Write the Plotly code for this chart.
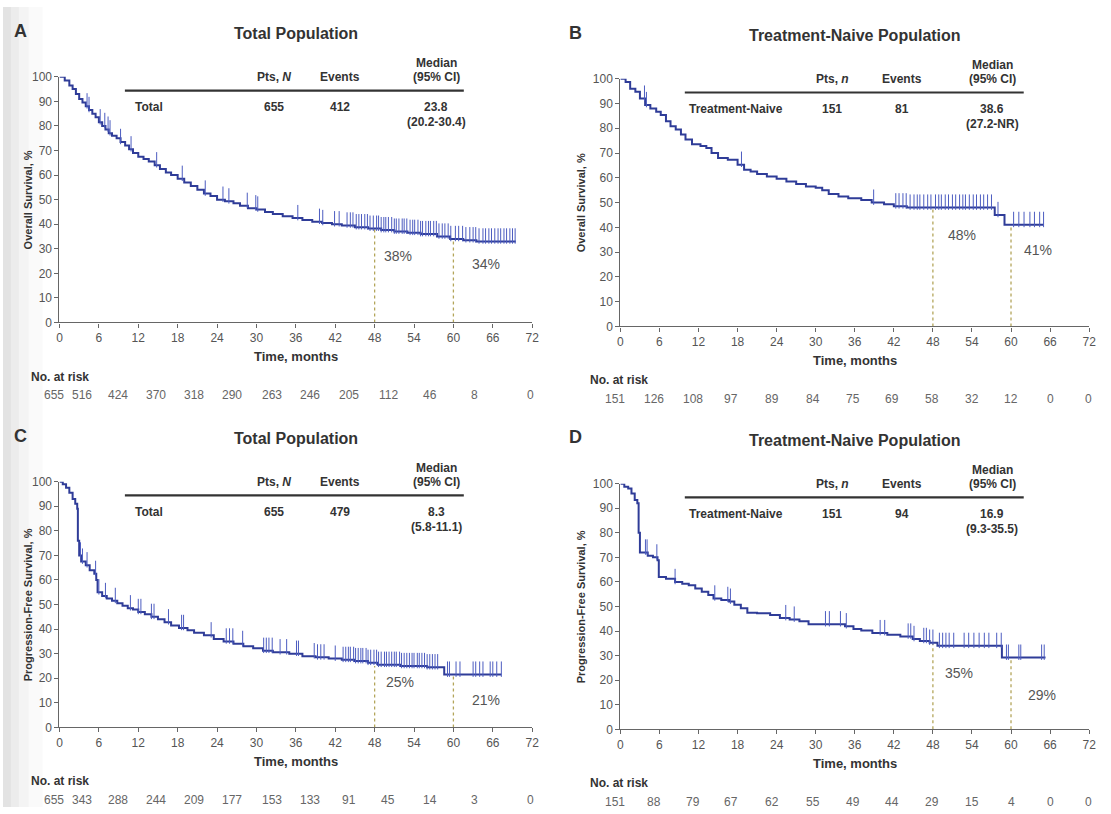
import plotly.graph_objects as go
from bisect import bisect_right

W, H = 1111, 814

# ---------------- data ----------------
risk_times = [0, 6, 12, 18, 24, 30, 36, 42, 48, 54, 60, 66, 72]

# Panel A: Overall survival, total population
a_time = [0, 0.8, 1.5, 2, 2.5, 3, 3.5, 4, 4.5, 5, 5.5, 6, 6.5, 7, 7.5, 8, 8.7, 9.3, 10,
          10.6, 11.2, 12, 12.8, 13.6, 14.5, 15.3, 16.2, 17, 18, 19, 20, 21, 22, 23, 24,
          25.2, 26.5, 27.5, 28.7, 30, 31.3, 32.5, 34, 35.5, 37, 38.5, 40, 41.5, 43, 45,
          47, 49, 51, 53, 55, 57.5, 59.5, 61.5, 63.5, 69.5]
a_surv = [100, 98.5, 96.5, 95, 93, 91, 89.5, 88, 86.5, 85, 83.5, 81.5, 80, 78.5, 77, 76,
          75, 73.5, 72, 70.5, 69, 67.5, 66.5, 65.5, 64, 62.5, 61, 60, 58.5, 57, 55.5, 54,
          52.5, 51.5, 50, 49.3, 48.5, 47.5, 46.5, 46, 45, 44.2, 43.2, 42.5, 41.7, 41,
          40.5, 40, 39.5, 38.8, 38.2, 37.6, 37, 36.5, 36, 35, 34, 33.5, 33, 33]
a_censor = [1.2, 4.2, 4.5, 6.2, 6.9, 7.4, 7.7, 9.3, 10.9, 14.8, 18.7, 22.2, 24.9, 25.8,
            28.6, 29.9, 30.2, 36.3, 39.6, 40.1, 41.9, 42.6, 43.8, 44.3, 44.7, 45.2, 45.6,
            46.0, 46.5, 46.9, 47.3, 47.8, 48.3, 48.6, 49.0, 49.4, 49.7, 50.1, 50.6, 51.0,
            51.3, 51.7, 52.2, 52.5, 52.9, 53.4, 53.8, 54.1, 54.6, 55.0, 55.3, 55.8, 56.2,
            56.5, 57.0, 57.4, 57.8, 58.3, 58.7, 59.2, 59.6, 60.3, 60.8, 61.4, 61.9, 62.5,
            63.0, 63.4, 63.9, 64.5, 64.9, 65.4, 65.8, 66.3, 66.8, 67.2, 67.7, 68.1, 68.6,
            69.0, 69.4]
a_risk = [655, 516, 424, 370, 318, 290, 263, 246, 205, 112, 46, 8, 0]

# Panel B: Overall survival, treatment-naive
b_time = [0, 0.8, 1.5, 2.3, 3, 3.8, 4.6, 5.5, 6.2, 7, 7.7, 8.5, 9.3, 10, 11, 12.3, 13.2,
          14, 15, 16.5, 18, 19, 20, 21, 22.5, 24, 25.5, 27, 28.5, 30, 31, 32, 33.5, 35,
          37, 38.6, 40.5, 42, 44, 57.5, 59, 65]
b_surv = [100, 98.7, 96, 94.7, 92, 89.4, 88, 86.7, 85.4, 82.8, 80.8, 79.5, 77.5, 75.5,
          73.5, 72.8, 72, 70, 68, 67.3, 65.3, 63.3, 62.5, 61.5, 60.5, 59.6, 58.5, 57.5,
          56.5, 56, 55, 53.5, 52.5, 51.7, 51, 50, 49.3, 48.5, 48, 45, 41, 41]
b_censor = [3.7, 4.0, 18.6, 38.9, 42.3, 42.8, 43.4, 43.9, 44.5, 45.1, 45.6, 46.0, 46.6,
            47.2, 47.7, 48.4, 48.9, 49.3, 49.9, 50.4, 51.0, 51.5, 52.1, 52.6, 53.0, 53.6,
            54.2, 54.7, 55.3, 55.8, 56.4, 57.0, 58.0, 60.4, 61.2, 62.0, 62.9, 63.6, 64.4,
            65.0]
b_risk = [151, 126, 108, 97, 89, 84, 75, 69, 58, 32, 12, 0, 0]

# Panel C: Progression-free survival, total population
c_time = [0, 0.5, 1, 1.5, 2, 2.4, 2.7, 2.8, 3.0, 3.3, 4, 4.6, 5.3, 5.6, 5.8, 6.5, 7.2, 8,
          8.8, 9.6, 10.4, 11.2, 12, 13, 14, 15, 16, 17, 18.2, 19.5, 20.5, 22, 23.5, 25,
          26.5, 28, 29.5, 31, 32.5, 35, 37, 39, 41, 43, 45, 47, 48.5, 52, 56, 58.6, 67.3]
c_surv = [100, 99, 97.5, 95.5, 93, 91, 89, 76, 70, 67.5, 66, 64, 62.5, 60, 55, 53.5,
          52.5, 51.5, 50.5, 49.5, 48.5, 48, 47, 46, 45, 44, 42.8, 41.5, 40.5, 39.5, 38.5,
          37.5, 36, 35, 34, 33, 32.2, 31.2, 30.6, 30, 29, 28.5, 28, 27.5, 27, 26.3, 25.5,
          25, 24.5, 21.5, 21.5]
c_censor = [0.5, 3.2, 3.5, 4.2, 5.5, 6.0, 7.0, 8.5, 10.8, 12.0, 12.4, 14.0, 14.4, 16.6,
            18.6, 18.9, 23.1, 25.4, 25.9, 26.4, 27.9, 31.1, 31.5, 31.9, 32.4, 33.6, 34.6,
            36.1, 36.4, 38.8, 39.3, 39.8, 40.3, 42.0, 43.2, 43.6, 44.0, 44.3, 44.8, 45.1,
            45.5, 45.9, 46.2, 46.7, 47.0, 47.4, 47.9, 48.3, 48.6, 49.0, 49.5, 49.8, 50.2,
            50.6, 51.0, 51.3, 51.8, 52.1, 52.5, 52.9, 53.3, 53.7, 54.0, 54.5, 54.8, 55.2,
            55.6, 56.0, 56.4, 56.8, 57.2, 57.6, 59.1, 59.4, 60.4, 61.0, 63.0, 63.4, 64.0,
            64.5, 65.6, 66.0, 66.6, 67.3]
c_risk = [655, 343, 288, 244, 209, 177, 153, 133, 91, 45, 14, 3, 0]

# Panel D: Progression-free survival, treatment-naive
d_time = [0, 0.6, 1.2, 1.7, 2.2, 2.6, 2.8, 3.0, 4.2, 5.0, 5.7, 5.9, 7, 8.4, 9.5, 10.5,
          11.5, 12.5, 13.5, 14.3, 15.5, 16.7, 17.5, 18.5, 19.5, 21, 23, 24.5, 26, 27.5,
          28.9, 32, 34.5, 35.8, 37, 38.7, 41, 43, 44.9, 46, 47.5, 48.7, 58.6, 65.3]
d_surv = [100, 98.7, 98, 96, 93.4, 92, 80, 72, 70.7, 70, 68.8, 62, 61.3, 60, 59.3, 58.7,
          57.3, 56, 54.7, 53.3, 52.7, 52, 50.7, 49.3, 47.5, 47.3, 46.5, 45.3, 44.7, 44,
          42.8, 42.8, 42, 40.8, 40.2, 39.2, 38.5, 37.8, 36.8, 36, 35.3, 34, 29.2, 29.2]
d_censor = [0.4, 3.85, 4.1, 5.6, 8.4, 14.5, 16.5, 16.9, 25.4, 26.7, 31.5, 32.1, 33.8,
            34.7, 39.9, 40.6, 44.2, 44.6, 45.1, 46.6, 47.0, 47.5, 48.0, 49.0, 49.5, 50.0,
            50.5, 51.2, 52.8, 53.5, 54.3, 55.1, 55.9, 56.6, 57.8, 58.5, 59.3, 59.6, 61.2,
            61.5, 64.7, 65.1]
d_risk = [151, 88, 79, 67, 62, 55, 49, 44, 29, 15, 4, 0, 0]

# Landmark estimates (48 and 60 months)
landmark_times = [48, 60]
a_landmark = [38, 34]
b_landmark = [48, 41]
c_landmark = [25, 21]
d_landmark = [35, 29]

# Table contents
panel_letters = ["A", "B", "C", "D"]
panel_titles = ["Total Population", "Treatment-Naive Population",
                "Total Population", "Treatment-Naive Population"]
y_titles = ["Overall Survival, %", "Overall Survival, %",
            "Progression-Free Survival, %", "Progression-Free Survival, %"]
group_labels = ["Total", "Treatment-Naive", "Total", "Treatment-Naive"]
n_symbols = ["N", "n", "N", "n"]
pts = [655, 151, 655, 151]
events = [412, 81, 479, 94]
medians = ["23.8", "38.6", "8.3", "16.9"]
median_cis = ["(20.2-30.4)", "(27.2-NR)", "(5.8-11.1)", "(9.3-35.5)"]

# ---------------- styling / geometry ----------------
FONT = "Liberation Sans, Arial, Helvetica, sans-serif"
CURVE = "#2f3c98"
CENS = "#4c5cc0"
DOT = "#b3a55a"
DARK = "#333333"
GRAY = "#555555"

geo = [
    dict(xl=57, xr=534, yt=71, yb=321),
    dict(xl=623, xr=1096, yt=73, yb=325),
    dict(xl=57, xr=534, yt=483, yb=733),
    dict(xl=623, xr=1096, yt=485, yb=735),
]
# column positions (px) for left/right panels
cols = [
    dict(letter=18, label=131, pts=273, events=340, median=437, line0=123, line1=465,
         risk=26, ytitle=25,
         risk_shift=[-5, -17, -20, -22, -23, -24, -24, -25, -26, -26, -23, -18, -2]),
    dict(letter=578, label=690, pts=837, events=907, median=998, line0=688, line1=1030,
         risk=590, ytitle=583,
         risk_shift=[-5, -5, -6, -7, -5, -3, -2, -2, -1, 0, 0, 0, -1]),
]
pct_pos = [
    [(51.6, 27), (65, 23.6)],
    [(52.4, 37), (64.2, 31)],
    [(51.8, 18.4), (65, 11.2)],
    [(52, 22.8), (64.7, 14)],
]

curves = [(a_time, a_surv, a_censor, a_risk, a_landmark),
          (b_time, b_surv, b_censor, b_risk, b_landmark),
          (c_time, c_surv, c_censor, c_risk, c_landmark),
          (d_time, d_surv, d_censor, d_risk, d_landmark)]


def px(x):
    return x / W


def py(y):
    return 1 - y / H


def surv_at(times, surv, t):
    return surv[bisect_right(times, t) - 1]


fig = go.Figure()
annotations = []
shapes = []
TICK_PX = 11

# faint scan shading along the left edge
for x0, x1, op in [(0, 8, 0.22), (8, 16, 0.15), (16, 26, 0.09), (26, 40, 0.04)]:
    shapes.append(dict(type="rect", xref="paper", yref="paper", x0=px(x0), x1=px(x1),
                       y0=0, y1=1, fillcolor="#808080", opacity=op, line=dict(width=0),
                       layer="below"))


def ann(text, x, y, size, bold=False, color=DARK, xanchor="center", angle=0,
        xref="paper", yref="paper", xshift=0):
    if bold:
        text = f"<b>{text}</b>"
    annotations.append(dict(
        text=text, x=px(x) if xref == "paper" else x,
        y=py(y) if yref == "paper" else y, xref=xref, yref=yref, xshift=xshift,
        xanchor=xanchor, yanchor="middle", showarrow=False, textangle=angle,
        font=dict(family=FONT, size=size, color=color)))


for i, (tt, ss, cens, risk, land) in enumerate(curves):
    k = i + 1
    xa = "x" if k == 1 else f"x{k}"
    ya = "y" if k == 1 else f"y{k}"
    g = geo[i]
    c = cols[i % 2]
    unit_px = (g["yb"] - g["yt"]) / 100.0

    # dotted landmark lines
    dx, dy = [], []
    for lt, lv in zip(landmark_times, land):
        dx += [lt, lt, None]
        dy += [0, lv, None]
    fig.add_trace(go.Scatter(x=dx, y=dy, mode="lines", xaxis=xa, yaxis=ya,
                             line=dict(color=DOT, width=1.3, dash="dot"),
                             hoverinfo="skip", showlegend=False))
    # KM curve
    fig.add_trace(go.Scatter(x=tt, y=ss, mode="lines", line_shape="hv", xaxis=xa,
                             yaxis=ya, line=dict(color=CURVE, width=2),
                             showlegend=False))
    # censor ticks
    off = (TICK_PX / 2.0) / unit_px
    fig.add_trace(go.Scatter(
        x=cens, y=[surv_at(tt, ss, t) + off for t in cens], mode="markers",
        xaxis=xa, yaxis=ya, cliponaxis=False,
        marker=dict(symbol="line-ns", size=TICK_PX, color=CENS,
                    line=dict(color=CENS, width=1)),
        showlegend=False))

    axis_common = dict(showgrid=False, zeroline=False, showline=True,
                       linecolor="#666666", linewidth=1.2, ticks="outside",
                       ticklen=4, tickcolor="#666666",
                       tickfont=dict(family=FONT, size=12, color=GRAY))
    fig.update_layout({
        ("xaxis" if k == 1 else f"xaxis{k}"): dict(
            domain=[px(g["xl"]), px(g["xr"])], anchor=ya, range=[0, 72],
            tickvals=risk_times, **axis_common),
        ("yaxis" if k == 1 else f"yaxis{k}"): dict(
            domain=[py(g["yb"]), py(g["yt"])], anchor=xa, range=[0, 100],
            tickvals=list(range(0, 101, 10)), **axis_common),
    })

    yt, yb = g["yt"], g["yb"]
    ann(panel_letters[i], c["letter"], yt - 47, 18, bold=True)
    ann(panel_titles[i], (g["xl"] + g["xr"]) / 2, yt - 44, 16, bold=True)
    ann("Median", c["median"], yt - 14, 12, bold=True)
    ann("(95% CI)", c["median"], yt, 12, bold=True)
    ann(f"Pts, <i>{n_symbols[i]}</i>", c["pts"], yt, 12, bold=True)
    ann("Events", c["events"], yt, 12, bold=True)
    shapes.append(dict(type="line", xref="paper", yref="paper",
                       x0=px(c["line0"]), x1=px(c["line1"]),
                       y0=py(yt + 14), y1=py(yt + 14),
                       line=dict(color=DARK, width=2.2)))
    ann(group_labels[i], c["label"], yt + 31, 12, bold=True, xanchor="left")
    ann(str(pts[i]), c["pts"], yt + 31, 12, bold=True)
    ann(str(events[i]), c["events"], yt + 31, 12, bold=True)
    ann(medians[i], c["median"], yt + 31, 12, bold=True)
    ann(median_cis[i], c["median"], yt + 46, 12, bold=True)

    ann(y_titles[i], c["ytitle"], (yt + yb) / 2, 11, bold=True, angle=-90)
    ann("Time, months", (g["xl"] + g["xr"]) / 2, yb + 35, 13, bold=True)
    ann("No. at risk", c["risk"], yb + 55, 12, bold=True, xanchor="left")
    for t, r, sh in zip(risk_times, risk, c["risk_shift"]):
        ann(str(r), t, yb + 74, 12, color="#666666", xref=xa, xshift=sh)
    for (lx, ly), lv in zip(pct_pos[i], land):
        ann(f"{lv}%", lx, ly, 14, color=GRAY, xref=xa, yref=ya)

fig.update_layout(
    width=W, height=H, autosize=False,
    margin=dict(l=0, r=0, t=0, b=0),
    paper_bgcolor="white", plot_bgcolor="rgba(0,0,0,0)",
    annotations=annotations, shapes=shapes, showlegend=False,
    font=dict(family=FONT),
)

fig.write_html("out.html", config={"displayModeBar": False},
               post_script="document.body.style.margin='0';document.body.style.overflow='hidden';")
